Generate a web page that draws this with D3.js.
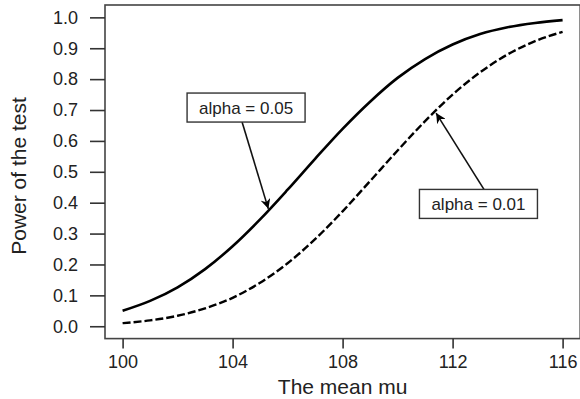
<!DOCTYPE html>
<html>
<head>
<meta charset="utf-8">
<script src="https://cdn.jsdelivr.net/npm/d3@7"></script>
<style>
  body { margin: 0; background: #fff; }
  svg { display: block; font-family: "Liberation Sans", Arial, sans-serif; }
</style>
</head>
<body>
<div id="chart"></div>
<script>
// values
const mu = [100, 101, 102, 103, 104, 105, 106, 107, 108, 109, 110, 111, 112, 113, 114, 115, 116];
const power05 = [0.050, 0.082, 0.126, 0.185, 0.259, 0.346, 0.442, 0.542, 0.639, 0.727, 0.804, 0.865, 0.912, 0.946, 0.968, 0.982, 0.991];
const power01 = [0.010, 0.019, 0.034, 0.058, 0.092, 0.141, 0.204, 0.282, 0.372, 0.470, 0.569, 0.664, 0.750, 0.822, 0.880, 0.923, 0.953];
const xTicks = [100, 104, 108, 112, 116];
const yTicks = [0, 0.1, 0.2, 0.3, 0.4, 0.5, 0.6, 0.7, 0.8, 0.9, 1.0];
// annotation: label, point the arrow hits (mu, power), label box centre (mu, power)
const notes = [
  { label: "alpha = 0.05", at: [105.3, 0.38], box: [104.49, 0.708] },
  { label: "alpha = 0.01", at: [111.4, 0.69], box: [112.94, 0.396] }
];

const width = 580, height = 399;
const svg = d3.select("#chart").append("svg")
    .attr("width", width)
    .attr("height", height);

const x = d3.scaleLinear().domain([99.36, 116.64]).range([105, 580.2]);
const y = d3.scaleLinear().domain([-0.04, 1.04]).range([338.6, 5]);

const ink = "#222";

// frame
svg.append("rect")
    .attr("x", x(99.36)).attr("y", y(1.04))
    .attr("width", x(116.64) - x(99.36))
    .attr("height", y(-0.04) - y(1.04))
    .attr("fill", "none")
    .attr("stroke", "#444")
    .attr("stroke-width", 1.6);

// y axis
const yAxis = svg.append("g")
    .attr("transform", `translate(${x(99.36)},0)`)
    .call(d3.axisLeft(y).tickValues(yTicks).tickSize(15).tickPadding(12).tickFormat(d3.format(".1f")));
yAxis.select(".domain").remove();
yAxis.selectAll("line").attr("stroke", "#333").attr("stroke-width", 1.6);
yAxis.selectAll("text").attr("fill", ink).attr("font-size", 18).attr("font-family", null);

// x axis
const xAxis = svg.append("g")
    .attr("transform", `translate(0,${y(-0.04)})`)
    .call(d3.axisBottom(x).tickValues(xTicks).tickSize(10).tickPadding(7).tickFormat(d3.format("d")));
xAxis.select(".domain").remove();
xAxis.selectAll("line").attr("stroke", "#333").attr("stroke-width", 1.6);
xAxis.selectAll("text").attr("fill", ink).attr("font-size", 18).attr("font-family", null);

// titles
svg.append("text")
    .attr("x", x(108)).attr("y", 394)
    .attr("text-anchor", "middle")
    .attr("fill", ink).attr("font-size", 21)
    .text("The mean mu");

svg.append("text")
    .attr("transform", `translate(26,176) rotate(-90)`)
    .attr("text-anchor", "middle")
    .attr("fill", ink).attr("font-size", 21)
    .text("Power of the test");

// curves
const line = d3.line()
    .x((d, i) => x(mu[i]))
    .y(d => y(d))
    .curve(d3.curveMonotoneX);

svg.append("path")
    .datum(power05)
    .attr("d", line)
    .attr("fill", "none")
    .attr("stroke", "#000")
    .attr("stroke-width", 2.6);

svg.append("path")
    .datum(power01)
    .attr("d", line)
    .attr("fill", "none")
    .attr("stroke", "#000")
    .attr("stroke-width", 2.4)
    .attr("stroke-dasharray", "8,3");

// arrowhead
svg.append("defs").append("marker")
    .attr("id", "arrow")
    .attr("viewBox", "0 0 10 10")
    .attr("refX", 10).attr("refY", 5)
    .attr("markerWidth", 10).attr("markerHeight", 10)
    .attr("markerUnits", "userSpaceOnUse")
    .attr("orient", "auto")
    .append("path")
    .attr("d", "M0,0 L10,5 L0,10 L3,5 Z")
    .attr("fill", "#000");

// annotations
const boxW = 118, boxH = 29;
notes.forEach(n => {
    const cx = x(n.box[0]), cy = y(n.box[1]);
    const below = n.at[1] > n.box[1];   // box sits below the point it marks
    const sx = below ? cx + 5.5 : cx - 4;
    const sy = below ? cy - boxH / 2 : cy + boxH / 2;
    svg.append("line")
        .attr("x1", sx).attr("y1", sy)
        .attr("x2", x(n.at[0])).attr("y2", y(n.at[1]))
        .attr("stroke", "#111")
        .attr("stroke-width", 1.6)
        .attr("marker-end", "url(#arrow)");
    svg.append("rect")
        .attr("x", cx - boxW / 2).attr("y", cy - boxH / 2)
        .attr("width", boxW).attr("height", boxH)
        .attr("fill", "#fff")
        .attr("stroke", "#333")
        .attr("stroke-width", 1.4);
    svg.append("text")
        .attr("x", cx).attr("y", cy + 6)
        .attr("text-anchor", "middle")
        .attr("fill", ink).attr("font-size", 17)
        .text(n.label);
});
</script>
</body>
</html>
